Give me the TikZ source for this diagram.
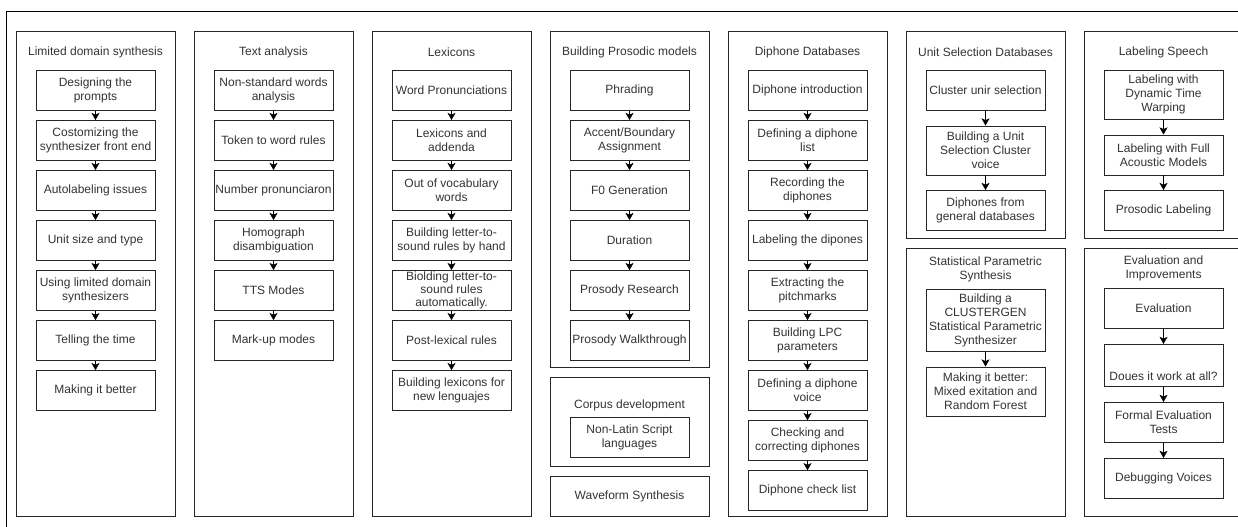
\documentclass[tikz,border=0pt]{standalone}
\usepackage{fontspec}
\setmainfont{Liberation Sans}
\usetikzlibrary{arrows.meta, positioning}
\definecolor{txtc}{RGB}{51,51,51}
\tikzset{
  grp/.style={draw=black!85, anchor=north, minimum width=119.25pt, inner sep=0pt,
              font=\fontsize{9}{10.5}\selectfont, text=txtc, align=center},
  ttl/.style={font=\fontsize{9}{10.5}\selectfont, text=txtc, align=center},
  stp/.style={draw=black!85, minimum width=89.25pt, minimum height=30pt,
              inner xsep=1pt, inner ysep=3pt, align=center,
              font=\fontsize{9}{10.5}\selectfont, text=txtc},
  nxt/.style={-{Stealth[length=5.4pt, width=6pt, inset=1.4pt]}, black},
}

\begin{document}
\begin{tikzpicture}[x=0.75pt, y=-0.75pt, node distance=7.125pt]
  \useasboundingbox (0,0) rectangle (1238,527);
  \clip (0,0) rectangle (1238,527);
  \draw[black] (1260,11) -- (6,11) -- (6,540);

  \node[grp, minimum height=363.75pt] (lds) at (95.5,31) {};
  \node[ttl] (ldsT) at (95.5,52) {Limited domain synthesis};
  \node[stp, anchor=north] (lds1) at (95.5,70) {Designing the\\prompts};
  \node[stp, below=of lds1] (lds2) {Costomizing the\\synthesizer front end};
  \node[stp, below=of lds2] (lds3) {Autolabeling issues};
  \node[stp, below=of lds3] (lds4) {Unit size and type};
  \node[stp, below=of lds4] (lds5) {Using limited domain\\synthesizers};
  \node[stp, below=of lds5] (lds6) {Telling the time};
  \node[stp, below=of lds6] (lds7) {Making it better};
  \draw[nxt] (lds1) -- (lds2);
  \draw[nxt] (lds2) -- (lds3);
  \draw[nxt] (lds3) -- (lds4);
  \draw[nxt] (lds4) -- (lds5);
  \draw[nxt] (lds5) -- (lds6);
  \draw[nxt] (lds6) -- (lds7);

  \node[grp, minimum height=363.75pt] (txa) at (273.5,31) {};
  \node[ttl] (txaT) at (273.5,52) {Text analysis};
  \node[stp, anchor=north] (txa1) at (273.5,70) {Non-standard words\\analysis};
  \node[stp, below=of txa1] (txa2) {Token to word rules};
  \node[stp, below=of txa2] (txa3) {Number pronunciaron};
  \node[stp, below=of txa3] (txa4) {Homograph\\disambiguation};
  \node[stp, below=of txa4] (txa5) {TTS Modes};
  \node[stp, below=of txa5] (txa6) {Mark-up modes};
  \draw[nxt] (txa1) -- (txa2);
  \draw[nxt] (txa2) -- (txa3);
  \draw[nxt] (txa3) -- (txa4);
  \draw[nxt] (txa4) -- (txa5);
  \draw[nxt] (txa5) -- (txa6);

  \node[grp, minimum height=363.75pt] (lex) at (451.5,31) {};
  \node[ttl] (lexT) at (451.5,52) {Lexicons};
  \node[stp, anchor=north] (lex1) at (451.5,70) {Word Pronunciations};
  \node[stp, below=of lex1] (lex2) {Lexicons and\\addenda};
  \node[stp, below=of lex2] (lex3) {Out of vocabulary\\words};
  \node[stp, below=of lex3] (lex4) {Building letter-to-\\sound rules by hand};
  \node[stp, below=of lex4, inner ysep=0pt, font=\fontsize{9}{10}\selectfont] (lex5)
    {Biolding letter-to-\\sound rules\\automatically.};
  \node[stp, below=of lex5] (lex6) {Post-lexical rules};
  \node[stp, below=of lex6] (lex7) {Building lexicons for\\new lenguajes};
  \draw[nxt] (lex1) -- (lex2);
  \draw[nxt] (lex2) -- (lex3);
  \draw[nxt] (lex3) -- (lex4);
  \draw[nxt] (lex4) -- (lex5);
  \draw[nxt] (lex5) -- (lex6);
  \draw[nxt] (lex6) -- (lex7);

  \node[grp, minimum height=252pt] (pro) at (629.5,31) {};
  \node[ttl] (proT) at (629.5,52) {Building Prosodic models};
  \node[stp, anchor=north] (pro1) at (629.5,70) {Phrading};
  \node[stp, below=of pro1] (pro2) {Accent/Boundary\\Assignment};
  \node[stp, below=of pro2] (pro3) {F0 Generation};
  \node[stp, below=of pro3] (pro4) {Duration};
  \node[stp, below=of pro4] (pro5) {Prosody Research};
  \node[stp, below=of pro5] (pro6) {Prosody Walkthrough};
  \draw[nxt] (pro1) -- (pro2);
  \draw[nxt] (pro2) -- (pro3);
  \draw[nxt] (pro3) -- (pro4);
  \draw[nxt] (pro4) -- (pro5);
  \draw[nxt] (pro5) -- (pro6);

  \node[grp, minimum height=66.75pt] (cor) at (629.5,377) {};
  \node[ttl] (corT) at (629.5,405) {Corpus development};
  \node[stp, anchor=north] (cor1) at (629.5,417) {Non-Latin Script\\languages};
  \node[grp, minimum height=30pt] (wav) at (629.5,476) {Waveform Synthesis};

  \node[grp, minimum height=363.75pt] (dip) at (807.5,31) {};
  \node[ttl] (dipT) at (807.5,52) {Diphone Databases};
  \node[stp, anchor=north] (dip1) at (807.5,70) {Diphone introduction};
  \node[stp, below=of dip1] (dip2) {Defining a diphone\\list};
  \node[stp, below=of dip2] (dip3) {Recording the\\diphones};
  \node[stp, below=of dip3] (dip4) {Labeling the dipones};
  \node[stp, below=of dip4] (dip5) {Extracting the\\pitchmarks};
  \node[stp, below=of dip5] (dip6) {Building LPC\\parameters};
  \node[stp, below=of dip6] (dip7) {Defining a diphone\\voice};
  \node[stp, below=of dip7] (dip8) {Checking and\\correcting diphones};
  \node[stp, below=of dip8] (dip9) {Diphone check list};
  \draw[nxt] (dip1) -- (dip2);
  \draw[nxt] (dip2) -- (dip3);
  \draw[nxt] (dip3) -- (dip4);
  \draw[nxt] (dip4) -- (dip5);
  \draw[nxt] (dip5) -- (dip6);
  \draw[nxt] (dip6) -- (dip7);
  \draw[nxt] (dip7) -- (dip8);
  \draw[nxt] (dip8) -- (dip9);

  \node[grp, minimum height=155.25pt] (uni) at (985.5,31) {};
  \node[ttl] (uniT) at (985.5,52) {Unit Selection Databases};
  \node[stp, anchor=north] (uni1) at (985.5,70) {Cluster unir selection};
  \node[stp, below=11.25pt of uni1, minimum height=36.75pt] (uni2)
    {Building a Unit\\Selection Cluster\\voice};
  \node[stp, below=11.25pt of uni2] (uni3) {Diphones from\\general databases};
  \draw[nxt] (uni1) -- (uni2);
  \draw[nxt] (uni2) -- (uni3);

  \node[grp, minimum height=201pt] (sps) at (985.5,248) {};
  \node[ttl] (spsT) at (985.5,269.5) {Statistical Parametric\\Synthesis};
  \node[stp, anchor=north, minimum height=46.5pt] (sps1) at (985.5,289)
    {Building a\\CLUSTERGEN\\Statistical Parametric\\Synthesizer};
  \node[stp, below=11.25pt of sps1, minimum height=36.75pt] (sps2)
    {Making it better:\\Mixed exitation and\\Random Forest};
  \draw[nxt] (sps1) -- (sps2);

  \node[grp, minimum height=155.25pt] (lab) at (1163.5,31) {};
  \node[ttl] (labT) at (1163.5,52) {Labeling Speech};
  \node[stp, anchor=north, minimum height=36.75pt] (lab1) at (1163.5,70)
    {Labeling with\\Dynamic Time\\Warping};
  \node[stp, below=11.25pt of lab1] (lab2) {Labeling with Full\\Acoustic Models};
  \node[stp, below=11.25pt of lab2] (lab3) {Prosodic Labeling};
  \draw[nxt] (lab1) -- (lab2);
  \draw[nxt] (lab2) -- (lab3);

  \node[grp, minimum height=201pt] (evl) at (1163.5,248) {};
  \node[ttl] (evlT) at (1163.5,268.5) {Evaluation and\\Improvements};
  \node[stp, anchor=north] (evl1) at (1163.5,288) {Evaluation};
  \node[stp, below=11.6pt of evl1, text height=24.5pt, text depth=1pt] (evl2)
    {Doues it work at all?};
  \node[stp, below=11.6pt of evl2] (evl3) {Formal Evaluation\\Tests};
  \node[stp, below=11.6pt of evl3] (evl4) {Debugging Voices};
  \draw[nxt] (evl1) -- (evl2);
  \draw[nxt] (evl2) -- (evl3);
  \draw[nxt] (evl3) -- (evl4);
\end{tikzpicture}
\end{document}
